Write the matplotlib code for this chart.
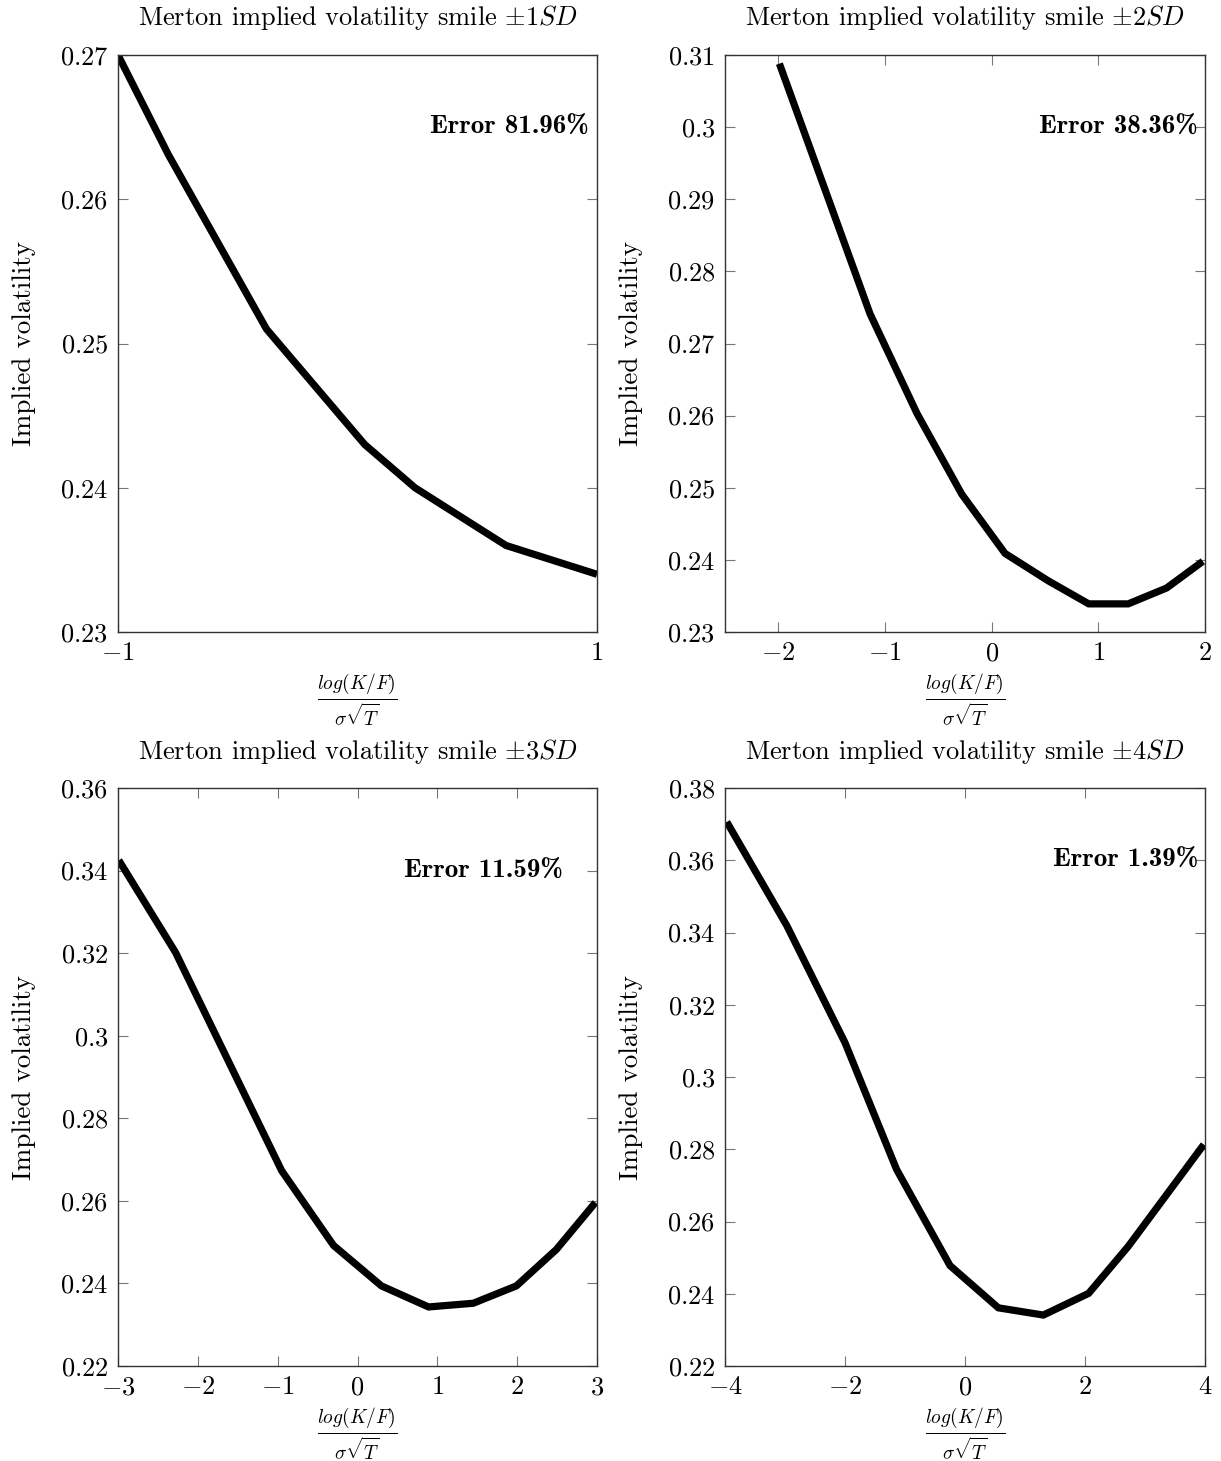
import matplotlib
matplotlib.use("Agg")
import matplotlib.pyplot as plt
from matplotlib.ticker import FixedLocator, FuncFormatter

plt.rcParams["font.family"] = ["cmr10", "DejaVu Serif"]
plt.rcParams["mathtext.fontset"] = "cm"
plt.rcParams["axes.unicode_minus"] = False

# Merton smile, +-1 SD range
sd1_x = [-1.0, -0.79, -0.38, 0.03, 0.24, 0.62, 1.0]
sd1_vol = [0.2700, 0.2631, 0.2510, 0.2430, 0.2400, 0.2360, 0.2340]

# Merton smile, +-2 SD range
sd2_x = [-1.99, -1.14, -0.70, -0.28, 0.125, 0.53, 0.91, 1.28, 1.64, 1.98]
sd2_vol = [0.3088, 0.2741, 0.2603, 0.2491, 0.2409, 0.2371, 0.2339, 0.2339, 0.2361, 0.2398]

# Merton smile, +-3 SD range
sd3_x = [-2.99, -2.28, -0.95, -0.30, 0.30, 0.89, 1.45, 1.99, 2.49, 2.98]
sd3_vol = [0.3425, 0.3202, 0.2673, 0.2492, 0.2394, 0.2343, 0.2352, 0.2394, 0.2482, 0.2596]

# Merton smile, +-4 SD range
sd4_x = [-3.97, -2.97, -2.0, -1.14, -0.25, 0.556, 1.306, 2.06, 2.72, 3.98]
sd4_vol = [0.3706, 0.3419, 0.3095, 0.2744, 0.2478, 0.2361, 0.2341, 0.2401, 0.2531, 0.2813]

titles = [r"Merton implied volatility smile $\pm1SD$",
          r"Merton implied volatility smile $\pm2SD$",
          r"Merton implied volatility smile $\pm3SD$",
          r"Merton implied volatility smile $\pm4SD$"]
errors = ["Error 81.96%", "Error 38.36%", "Error 11.59%", "Error 1.39%"]

xlims = [(-1, 1), (-2.5, 2), (-3, 3), (-4, 4)]
xticks = [[-1, 1], [-2, -1, 0, 1, 2], [-3, -2, -1, 0, 1, 2, 3], [-4, -2, 0, 2, 4]]
ylims = [(0.23, 0.27), (0.23, 0.31), (0.22, 0.36), (0.22, 0.38)]
yticks = [[0.23, 0.24, 0.25, 0.26, 0.27],
          [0.23, 0.24, 0.25, 0.26, 0.27, 0.28, 0.29, 0.30, 0.31],
          [0.22, 0.24, 0.26, 0.28, 0.30, 0.32, 0.34, 0.36],
          [0.22, 0.24, 0.26, 0.28, 0.30, 0.32, 0.34, 0.36, 0.38]]
err_pos = [(0.983, 0.874), (0.985, 0.874), (0.929, 0.855), (0.985, 0.875)]

series = [(sd1_x, sd1_vol), (sd2_x, sd2_vol), (sd3_x, sd3_vol), (sd4_x, sd4_vol)]

W, H = 1221, 1461
fig = plt.figure(figsize=(W / 100, H / 100), dpi=100)

boxes = [(118, 55, 597, 632), (725, 55, 1205, 632),
         (118, 788, 597, 1366), (725, 788, 1205, 1366)]


def fmt_num(v, _pos):
    return r"$%s$" % ("%g" % round(v, 6))


for i, (x0, y0, x1, y1) in enumerate(boxes):
    w, h = x1 - x0, y1 - y0
    ax = fig.add_axes([x0 / W, 1 - y1 / H, w / W, h / H])
    xs, vs = series[i]
    ax.plot(xs, vs, color="black", lw=5.2, solid_joinstyle="miter", solid_capstyle="butt")
    ax.set_xlim(*xlims[i])
    ax.set_ylim(*ylims[i])
    ax.xaxis.set_major_locator(FixedLocator(xticks[i]))
    ax.yaxis.set_major_locator(FixedLocator(yticks[i]))
    ax.xaxis.set_major_formatter(FuncFormatter(fmt_num))
    ax.yaxis.set_major_formatter(FuncFormatter(fmt_num))
    ax.tick_params(direction="in", length=7, width=0.8, color="#777777",
                   top=True, right=True, labelsize=19, pad=7)
    for sp in ax.spines.values():
        sp.set_color("#333333")
        sp.set_linewidth(1.0)
    ax.text(0.5, 1 + 37 / h, titles[i], transform=ax.transAxes,
            ha="center", va="center", fontsize=19)
    ax.set_ylabel("Implied volatility", fontsize=19.5, va="center")
    ax.yaxis.set_label_coords(-94 / w, 0.5)
    ax.set_xlabel(r"$\frac{log(K/F)}{\sigma\sqrt{T}}$", fontsize=20, va="center")
    ax.xaxis.set_label_coords(0.5, -69 / h)
    ax.text(err_pos[i][0], err_pos[i][1], errors[i], transform=ax.transAxes,
            ha="right", va="center", fontsize=19.5, family=["cmb10", "DejaVu Serif"])

fig.savefig("out.png", dpi=100)
